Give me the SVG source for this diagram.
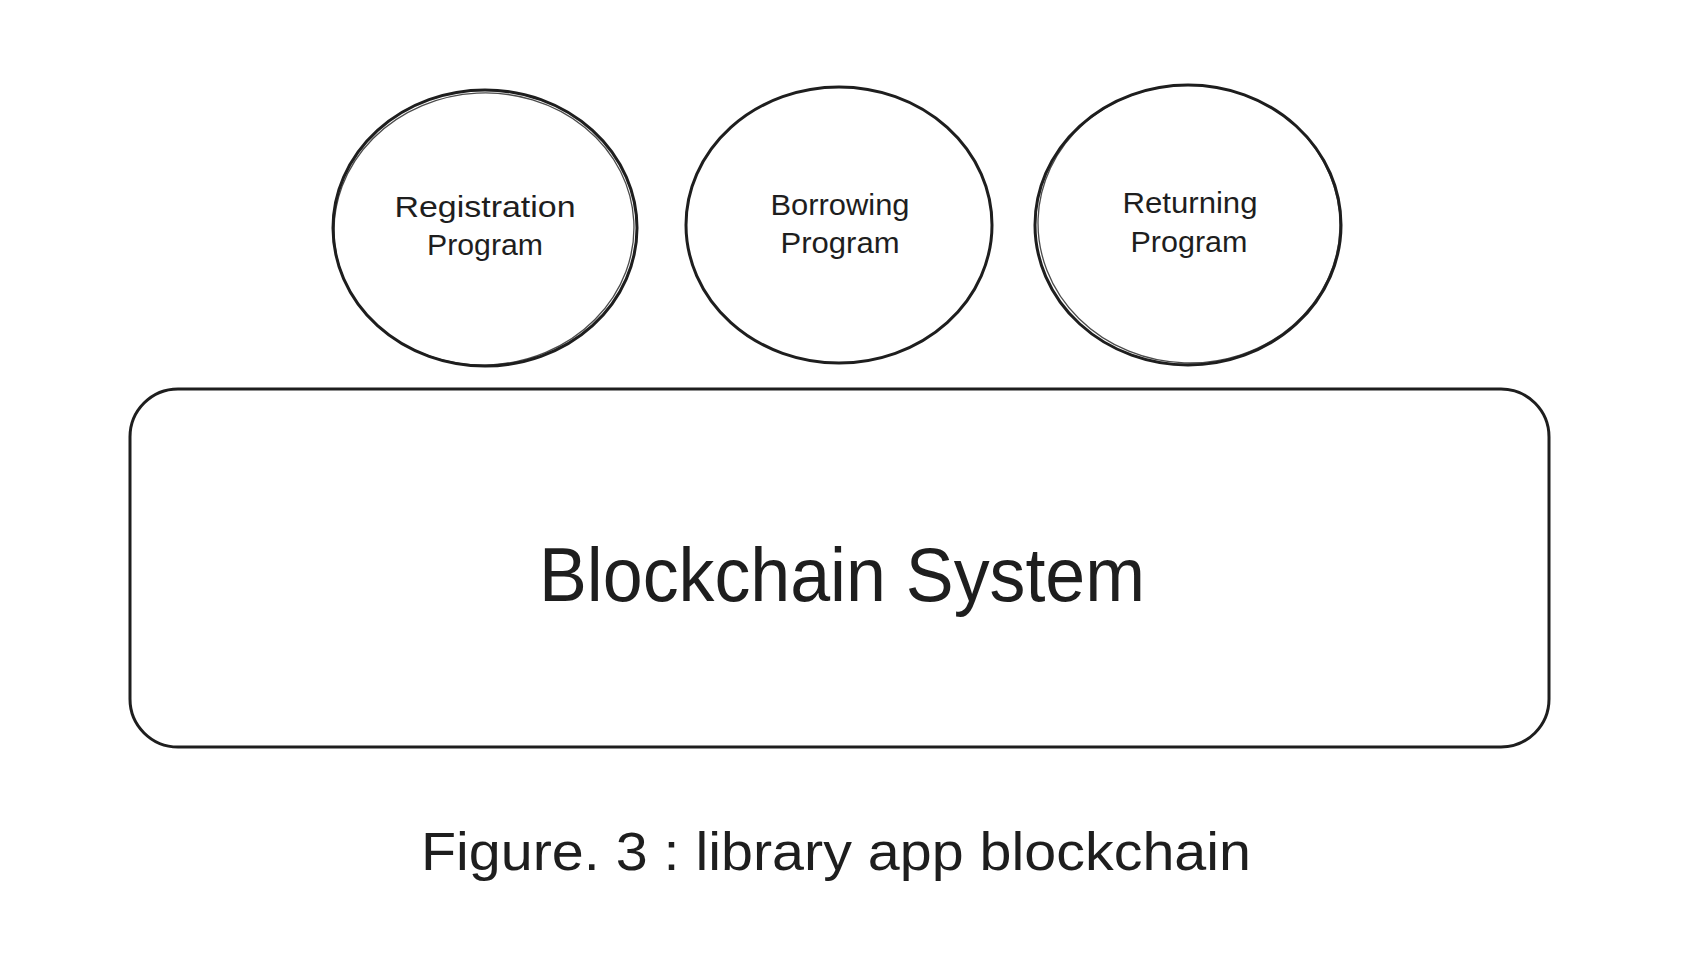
<svg xmlns="http://www.w3.org/2000/svg" width="1702" height="974" viewBox="0 0 1702 974">
<style>
.shape{fill:none;stroke:#1e1e1e;stroke-width:3;stroke-linecap:round;stroke-linejoin:round}
.sketch{fill:none;stroke:#1e1e1e;stroke-width:1.3;opacity:0.8}
text{font-family:"Liberation Sans","DejaVu Sans",sans-serif;fill:#1e1e1e;text-anchor:middle}
.small{font-size:30px}
.big{font-size:76px}
.cap{font-size:53px}
</style>
<rect width="1702" height="974" fill="#ffffff"/>
<g id="connectors"></g>
<g id="registration">
<ellipse class="shape" cx="485" cy="228" rx="152" ry="138"/>
<ellipse class="sketch" cx="484" cy="229" rx="150" ry="136" transform="rotate(-3 484 229)"/>
<text class="small" x="485" y="217" textLength="181" lengthAdjust="spacingAndGlyphs">Registration</text>
<text class="small" x="485" y="255" textLength="116" lengthAdjust="spacingAndGlyphs">Program</text>
</g>
<g id="borrowing">
<ellipse class="shape" cx="839" cy="225" rx="153" ry="138"/>
<text class="small" x="840" y="215" textLength="139" lengthAdjust="spacingAndGlyphs">Borrowing</text>
<text class="small" x="840" y="253" textLength="119" lengthAdjust="spacingAndGlyphs">Program</text>
</g>
<g id="returning">
<ellipse class="shape" cx="1188" cy="225" rx="153" ry="140"/>
<ellipse class="sketch" cx="1189" cy="224" rx="151" ry="139" transform="rotate(2 1189 224)"/>
<text class="small" x="1190" y="213" textLength="135" lengthAdjust="spacingAndGlyphs">Returning</text>
<text class="small" x="1189" y="252" textLength="117" lengthAdjust="spacingAndGlyphs">Program</text>
</g>
<g id="blockchain">
<rect class="shape" x="130" y="389" width="1419" height="358" rx="48" ry="48"/>
<text class="big" x="842" y="601" textLength="606" lengthAdjust="spacingAndGlyphs">Blockchain System</text>
</g>
<g id="caption">
<text class="cap" x="836" y="870" textLength="830" lengthAdjust="spacingAndGlyphs">Figure. 3 : library app blockchain</text>
</g>
</svg>
